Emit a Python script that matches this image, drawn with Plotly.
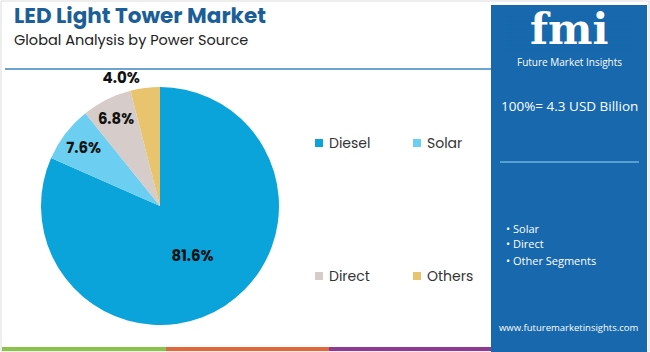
import plotly.graph_objects as go

categories = ["Diesel", "Solar", "Direct", "Others"]
shares = [81.6, 7.6, 6.8, 4.0]
colors = ["#0AA4DA", "#6CCFF1", "#D6CCC9", "#E9C46F"]
label_pos = ["inside", "inside", "inside", "outside"]
panel_bullets = ["Solar", "Direct", "Other Segments"]
total_text = "100%= 4.3 USD Billion"

W, H = 650, 352
def px(x): return x / W
def py(y): return 1 - y / H

fig = go.Figure()
fig.add_trace(go.Pie(
    labels=categories, values=shares, sort=False, direction="clockwise", rotation=0,
    marker=dict(colors=colors, line=dict(width=0)),
    texttemplate="%{value:.1f}%", textposition=label_pos,
    insidetextorientation="horizontal",
    textfont=dict(family="Poppins, Montserrat, Open Sans", size=15, color="#111111", weight="bold"),
    domain=dict(x=[px(41), px(279)], y=[py(325), py(87)]),
    showlegend=False, hoverinfo="skip",
))

shapes = []
ann = []
# outer frame
shapes.append(dict(type="rect", xref="paper", yref="paper", x0=px(1), x1=px(649), y0=py(351), y1=py(1),
                   line=dict(color="#DDDDDD", width=1)))
# header rule
shapes.append(dict(type="line", xref="paper", yref="paper", x0=px(5), x1=px(492), y0=py(69), y1=py(69),
                   line=dict(color="#3C86BE", width=1.5)))
# bottom colored bars
for x0, x1, c in [(2, 166, "#8BC34A"), (166, 329, "#E2683C"), (329, 492, "#8E3A93")]:
    shapes.append(dict(type="rect", xref="paper", yref="paper", x0=px(x0), x1=px(x1), y0=py(351), y1=py(347),
                       line=dict(width=0), fillcolor=c))
# right panel
shapes.append(dict(type="rect", xref="paper", yref="paper", x0=px(491), x1=px(647), y0=py(352), y1=py(5),
                   line=dict(width=0), fillcolor="#1768AC"))
shapes.append(dict(type="line", xref="paper", yref="paper", x0=px(500), x1=px(639), y0=py(162), y1=py(162),
                   line=dict(color="#6FB0E0", width=1.5)))

# title
ann.append(dict(text="<b>LED Light Tower Market</b>", x=px(12), y=py(16), xref="paper", yref="paper",
                xanchor="left", yanchor="middle", showarrow=False,
                font=dict(family="Poppins, Montserrat, Open Sans", size=21.5, color="#1B5E98")))
ann.append(dict(text="Global Analysis by Power Source", x=px(12), y=py(40), xref="paper", yref="paper",
                xanchor="left", yanchor="middle", showarrow=False,
                font=dict(family="Poppins, Open Sans", size=14.5, color="#222222")))

# legend built from data
leg_xy = [(315, 143), (413, 143), (315, 276), (413, 276)]
for (lx, ly), name, c in zip(leg_xy, categories, colors):
    shapes.append(dict(type="rect", xref="paper", yref="paper", x0=px(lx), x1=px(lx + 8), y0=py(ly + 4), y1=py(ly - 4),
                       line=dict(width=0), fillcolor=c))
    ann.append(dict(text=name, x=px(lx + 12), y=py(ly), xref="paper", yref="paper", xanchor="left", yanchor="middle",
                    showarrow=False, font=dict(family="Poppins, Open Sans", size=14, color="#333333")))

# logo
ann.append(dict(text="<b>fmi</b>", x=px(569), y=py(30), xref="paper", yref="paper", xanchor="center", yanchor="middle",
                showarrow=False, font=dict(family="DejaVu Serif", size=42, color="white")))
for yy in range(17, 50, 4):
    shapes.append(dict(type="line", xref="paper", yref="paper", x0=px(505), x1=px(635), y0=py(yy), y1=py(yy),
                       line=dict(color="#1768AC", width=1)))
ann.append(dict(text="Future Market Insights", x=px(569), y=py(62), xref="paper", yref="paper", xanchor="center",
                yanchor="middle", showarrow=False, font=dict(family="Open Sans", size=10, color="white")))
ann.append(dict(text=total_text, x=px(569), y=py(106), xref="paper", yref="paper", xanchor="center",
                yanchor="middle", showarrow=False, font=dict(family="Open Sans", size=13.5, color="white")))
for i, b in enumerate(panel_bullets):
    yy = [229, 243, 260][i]
    ann.append(dict(text="• " + b, x=px(504), y=py(yy), xref="paper", yref="paper", xanchor="left",
                    yanchor="middle", showarrow=False, font=dict(family="Open Sans", size=11, color="white")))
ann.append(dict(text="www.futuremarketinsights.com", x=px(569), y=py(327), xref="paper", yref="paper",
                xanchor="center", yanchor="middle", showarrow=False,
                font=dict(family="Open Sans", size=9.5, color="white")))

fig.update_layout(
    width=W, height=H, margin=dict(l=0, r=0, t=0, b=0),
    paper_bgcolor="white", plot_bgcolor="white",
    shapes=shapes, annotations=ann,
)
fig.write_html("out.html")
